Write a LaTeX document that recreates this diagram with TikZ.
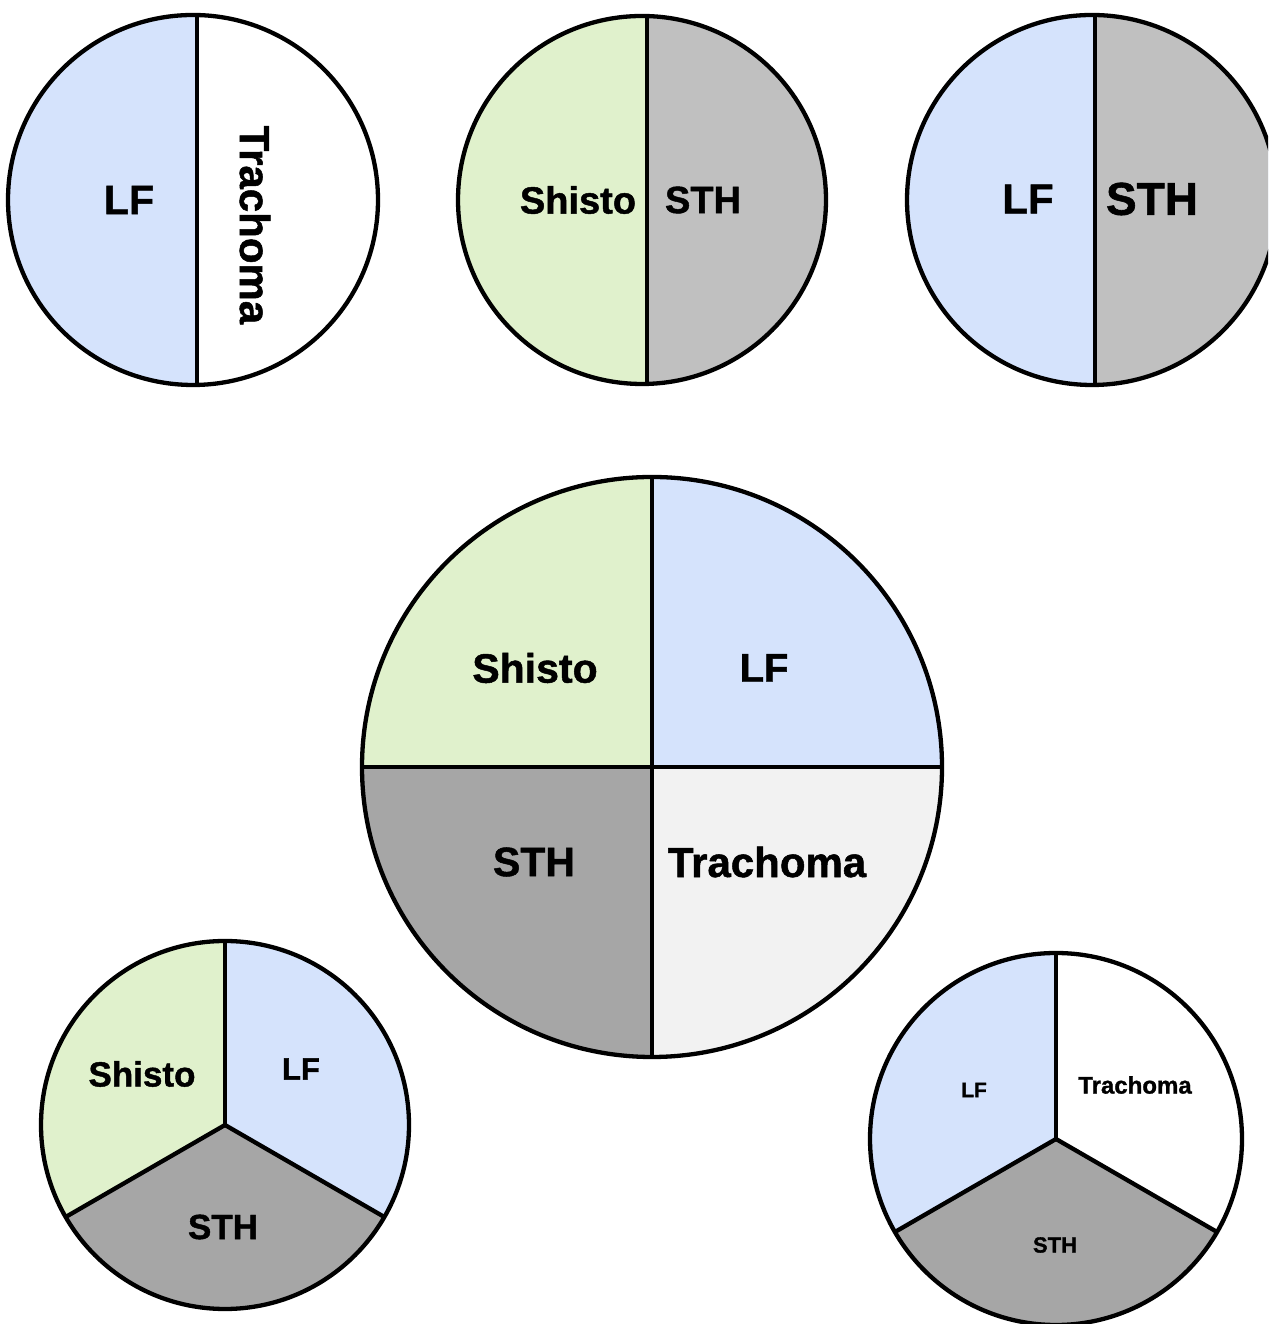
\documentclass[tikz,border=0pt]{standalone}
\usepackage{fontspec}
\setmainfont{Liberation Sans}
\newfontfamily\heavyfont[FakeBold=1.2]{Liberation Sans Bold}
\definecolor{lfblue}{HTML}{D5E3FC}
\definecolor{shgreen}{HTML}{E0F1CC}
\definecolor{sthgray}{HTML}{C0C0C0}
\definecolor{sthdark}{HTML}{A6A6A6}
\definecolor{trlight}{HTML}{F2F2F2}
\begin{document}
\begin{tikzpicture}[x=1pt,y=1pt,
  outline/.style={line width=4.3pt, draw=black},
  lbl/.style={inner sep=0pt, text=black, font=\heavyfont\fontsize{#1}{#1}\selectfont}]
\useasboundingbox (0,0) rectangle (1268,1324);
\clip (0,0) rectangle (1268,1324);
\fill[white] (0,0) rectangle (1268,1324);

% ---------- top-left: LF | Trachoma ----------
\fill[lfblue] (193,1124) circle[radius=185];
\begin{scope}
  \clip (197,900) rectangle (400,1324);
  \fill[white] (193,1124) circle[radius=185];
\end{scope}
\draw[outline] (197,1309) -- (197,939);
\draw[outline] (193,1124) circle[radius=185];
\node[lbl=41] (tlLF) at (129,1124) {LF};
\node[lbl=42, rotate=-90] (tlTr) at (255,1099) {Trachoma};

% ---------- top-middle: Shisto | STH ----------
\fill[shgreen] (642,1124) circle[radius=184];
\begin{scope}
  \clip (647,900) rectangle (860,1324);
  \fill[sthgray] (642,1124) circle[radius=184];
\end{scope}
\draw[outline] (647,1308) -- (647,940);
\draw[outline] (642,1124) circle[radius=184];
\node[lbl=38] (tmSh) at (578,1124) {Shisto};
\node[lbl=38] (tmSTH) at (703,1124) {STH};

% ---------- top-right: LF | STH ----------
\fill[lfblue] (1092,1124) circle[radius=185];
\begin{scope}
  \clip (1095,900) rectangle (1300,1324);
  \fill[sthgray] (1092,1124) circle[radius=185];
\end{scope}
\draw[outline] (1095,1309) -- (1095,939);
\draw[outline] (1092,1124) circle[radius=185];
\node[lbl=42] (trLF) at (1028,1125) {LF};
\node[lbl=46] (trSTH) at (1152,1125) {STH};

% ---------- centre: four quadrants ----------
\fill[shgreen] (652,557) -- (362,557) arc[start angle=180, end angle=90, radius=290] -- cycle;
\fill[lfblue] (652,557) -- (652,847) arc[start angle=90, end angle=0, radius=290] -- cycle;
\fill[sthdark] (652,557) -- (652,267) arc[start angle=270, end angle=180, radius=290] -- cycle;
\fill[trlight] (652,557) -- (942,557) arc[start angle=0, end angle=-90, radius=290] -- cycle;
\draw[outline] (362,557) -- (942,557);
\draw[outline] (652,847) -- (652,267);
\draw[outline] (652,557) circle[radius=290];
\node[lbl=41] (cSh) at (535,656) {Shisto};
\node[lbl=40] (cLF) at (764,656) {LF};
\node[lbl=41] (cSTH) at (534,462) {STH};
\node[lbl=42] (cTr) at (767,462) {Trachoma};

% ---------- bottom-left: three sectors ----------
\fill[shgreen] (225,199) -- +(90:184) arc[start angle=90, end angle=210, radius=184] -- cycle;
\fill[sthdark] (225,199) -- +(210:184) arc[start angle=210, end angle=330, radius=184] -- cycle;
\fill[lfblue] (225,199) -- +(330:184) arc[start angle=330, end angle=450, radius=184] -- cycle;
\draw[outline] (225,199) -- +(90:184);
\draw[outline] (225,199) -- +(210:184);
\draw[outline] (225,199) -- +(330:184);
\draw[outline] (225,199) circle[radius=184];
\node[lbl=35] (blSh) at (142,250) {Shisto};
\node[lbl=31] (blLF) at (301,255) {LF};
\node[lbl=35] (blSTH) at (223,97) {STH};

% ---------- bottom-right: three sectors ----------
\fill[lfblue] (1056,185) -- +(90:186) arc[start angle=90, end angle=210, radius=186] -- cycle;
\fill[sthdark] (1056,185) -- +(210:186) arc[start angle=210, end angle=330, radius=186] -- cycle;
\fill[white] (1056,185) -- +(330:186) arc[start angle=330, end angle=450, radius=186] -- cycle;
\draw[outline] (1056,185) -- +(90:186);
\draw[outline] (1056,185) -- +(210:186);
\draw[outline] (1056,185) -- +(330:186);
\draw[outline] (1056,185) circle[radius=186];
\node[lbl=21] (brLF) at (974,234) {LF};
\node[lbl=24] (brTr) at (1135,239) {Trachoma};
\node[lbl=22] (brSTH) at (1055,79) {STH};
\end{tikzpicture}
\end{document}
